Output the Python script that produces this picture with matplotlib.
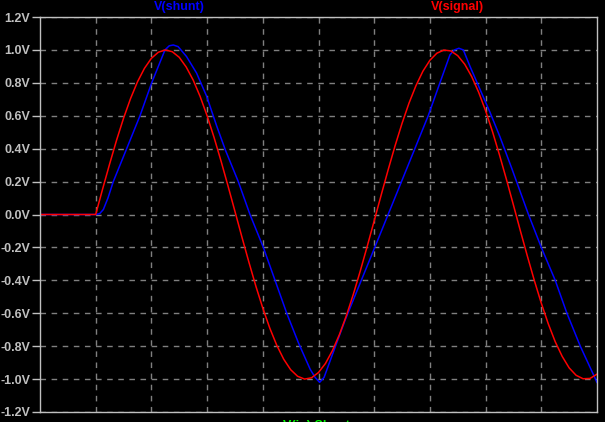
import numpy as np
import matplotlib
matplotlib.use("Agg")
import matplotlib.pyplot as plt

# x in grid divisions (0..10), values in volts
red_t = [0.0] + [1.0 + 0.125 * k for k in range(73)]
red_v = [0.0,
         0.000, 0.156, 0.307, 0.452, 0.585, 0.704, 0.806, 0.888, 0.949, 0.986,
         1.000, 0.989, 0.955, 0.896, 0.817, 0.717, 0.600, 0.468, 0.325, 0.174,
         0.019, -0.137, -0.289, -0.435, -0.569, -0.690, -0.794, -0.879, -0.943, -0.983,
         -1.000, -0.992, -0.960, -0.905, -0.827, -0.730, -0.615, -0.485, -0.343, -0.193,
         -0.038, 0.118, 0.271, 0.418, 0.554, 0.677, 0.783, 0.871, 0.937, 0.980,
         0.999, 0.994, 0.965, 0.913, 0.838, 0.743, 0.630, 0.502, 0.361, 0.212,
         0.057, -0.100, -0.253, -0.401, -0.539, -0.664, -0.773, -0.862, -0.932, -0.977,
         -0.998, -0.996, -0.970]

blue_t = [0.0, 1.0, 1.07, 1.137, 1.22, 1.316, 1.556, 1.795, 2.005, 2.244, 2.32, 2.393, 2.48,
          2.63, 2.81, 2.99, 3.17, 3.33, 3.56, 3.77, 4.01, 4.22, 4.43, 4.64, 4.85,
          4.94, 5.02, 5.10, 5.24, 5.48, 5.72, 6.01, 6.25, 6.49, 6.73, 6.97, 7.18,
          7.36, 7.44, 7.52, 7.60, 7.72, 7.90, 8.08, 8.26, 8.47, 8.77, 9.0, 9.25,
          9.46, 9.70, 10.0]
blue_v = [0.0, 0.0, 0.005, 0.03, 0.10, 0.2, 0.4, 0.6, 0.8, 1.0, 1.025, 1.03, 1.02,
          0.96, 0.86, 0.72, 0.54, 0.39, 0.2, 0.0, -0.2, -0.4, -0.6, -0.78, -0.94,
          -0.99, -1.02, -0.99, -0.86, -0.64, -0.44, -0.2, 0.0, 0.2, 0.4, 0.6, 0.8,
          0.97, 1.0, 1.01, 1.0, 0.9, 0.76, 0.62, 0.47, 0.28, 0.0, -0.2, -0.4,
          -0.6, -0.8, -1.02]

y_ticks = [-1.2, -1.0, -0.8, -0.6, -0.4, -0.2, 0.0, 0.2, 0.4, 0.6, 0.8, 1.0, 1.2]
x_grid = [1, 2, 3, 4, 5, 6, 7, 8, 9]

fg = '#c0c0c0'
font = 'Liberation Sans'

fig = plt.figure(figsize=(6.05, 4.22), dpi=100, facecolor='black')
ax = fig.add_axes([40 / 605, 10 / 422, 557 / 605, 395 / 422], facecolor='black')

ax.plot(blue_t, blue_v, color='#0000ff', lw=1.1)
ax.plot(red_t, red_v, color='#ff0000', lw=1.1)

ax.set_xlim(0, 10)
ax.set_ylim(-1.2, 1.2)
ax.set_xticks(x_grid)
ax.set_xticklabels([])
ax.set_yticks(y_ticks)
ax.set_yticklabels(['%.1fV' % v for v in y_ticks], fontsize=9, fontweight='bold',
                   family=font, color=fg)
ax.tick_params(axis='x', length=0)
ax.tick_params(axis='y', length=6, width=1, color=fg, pad=1)
ax.grid(True, color='#808080', linestyle=(0, (4, 4)), linewidth=1)
for s in ax.spines.values():
    s.set_color(fg)
    s.set_linewidth(1)

fig.text(179 / 605, 1 - 7 / 422, 'V(shunt)', color='#0000ff', fontsize=9,
         fontweight='bold', family=font, ha='center', va='center')
fig.text(457 / 605, 1 - 7 / 422, 'V(signal)', color='#ff0000', fontsize=9,
         fontweight='bold', family=font, ha='center', va='center')
# x-axis label sits mostly below the visible area, as in the original capture
fig.text(316 / 605, 1 - 420 / 422, 'V(in) Shunt', color='#00ff00', fontsize=9,
         fontweight='bold', family=font, ha='center', va='top')

fig.savefig('out.png', dpi=100, facecolor='black')
